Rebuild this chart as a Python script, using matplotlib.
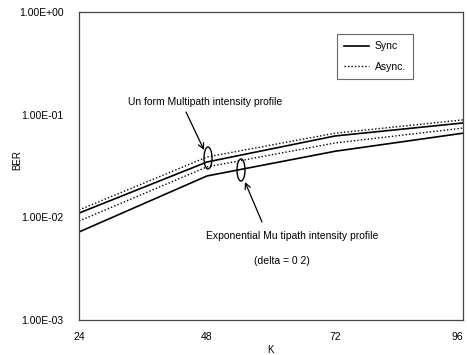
import matplotlib
matplotlib.use("Agg")
import matplotlib.pyplot as plt
from matplotlib.ticker import FixedLocator, FuncFormatter, NullLocator
from matplotlib.patches import Ellipse

plt.rcParams['font.family'] = ['Liberation Sans', 'DejaVu Sans']

K = [24, 48, 72, 96]
uniform_sync = [1.10e-2, 3.46e-2, 6.2e-2, 8.3e-2]
uniform_async = [1.18e-2, 3.87e-2, 6.6e-2, 8.9e-2]
exp_sync = [7.2e-3, 2.53e-2, 4.4e-2, 6.6e-2]
exp_async = [9.2e-3, 3.1e-2, 5.3e-2, 7.4e-2]
y_ticks = [1e-3, 1e-2, 1e-1, 1e0]
y_labels = ['1.00E-03', '1.00E-02', '1.00E-01', '1.00E+00']
x_labels = ['24', '48', '72', '96']

L, R, T, B = 79, 463, 12, 320
fig = plt.figure(figsize=(4.67, 3.55), dpi=100)
ax = fig.add_axes([L/467, 1-B/355, (R-L)/467, (B-T)/355])

def A(px, py):
    return ((px - L) / (R - L), (B - py) / (B - T))

ax.plot(K, uniform_sync, color='black', lw=1.2, label='Sync')
ax.plot(K, uniform_async, color='black', lw=1.0, ls=(0, (1, 1.5)), label='Async.')
ax.plot(K, exp_sync, color='black', lw=1.2)
ax.plot(K, exp_async, color='black', lw=1.0, ls=(0, (1, 1.5)))

ax.set_yscale('log')
ax.set_xlim(24, 96)
ax.set_ylim(1e-3, 1e0)
ax.xaxis.set_major_locator(FixedLocator(K))
ax.set_xticklabels(x_labels, fontsize=7.5)
ax.yaxis.set_major_locator(FixedLocator(y_ticks))
ax.yaxis.set_major_formatter(FuncFormatter(lambda v, p: y_labels[y_ticks.index(min(y_ticks, key=lambda t: abs(t - v)))]))
ax.yaxis.set_minor_locator(NullLocator())
ax.tick_params(axis='x', length=0, labelsize=7.5, pad=9)
ax.tick_params(axis='y', length=0, labelsize=7.5, pad=11)
xl = ax.get_xticklabels()
xl[-1].set_horizontalalignment('right')
for s in ax.spines.values():
    s.set_color('#444444')
    s.set_linewidth(0.9)

ax.set_xlabel('K', fontsize=7, labelpad=2)
ax.set_ylabel('BER', fontsize=7)
ax.yaxis.set_label_coords(-(L - 22) / (R - L), A(0, 160)[1])

leg = ax.legend(loc='upper left', bbox_to_anchor=A(337, 34), fontsize=7.5,
                frameon=True, fancybox=False, edgecolor='#444444', handlelength=2.4,
                borderpad=0.7, labelspacing=1.0, handletextpad=0.5, borderaxespad=0)
leg.get_frame().set_linewidth(0.8)

# ellipses drawn in axes coordinates
for (cx, cy) in [(208, 158), (241, 170)]:
    ax.add_patch(Ellipse(A(cx, cy), 8 / (R - L), 22 / (B - T), transform=ax.transAxes,
                         fill=False, lw=1.0, color='black'))

ax.text(*A(205, 102), 'Un form Multipath intensity profile', transform=ax.transAxes,
        fontsize=7.5, ha='center', va='center')
ax.annotate('', xy=A(204, 150), xycoords='axes fraction',
            xytext=A(186, 112), textcoords='axes fraction',
            arrowprops=dict(arrowstyle='->', color='black', lw=0.9, shrinkA=0, shrinkB=0))
ax.annotate('', xy=A(245, 182), xycoords='axes fraction',
            xytext=A(262, 222), textcoords='axes fraction',
            arrowprops=dict(arrowstyle='->', color='black', lw=0.9, shrinkA=0, shrinkB=0))
ax.text(*A(292, 236), 'Exponential Mu tipath intensity profile', transform=ax.transAxes,
        fontsize=7.5, ha='center', va='center')
ax.text(*A(282, 261), '(delta = 0 2)', transform=ax.transAxes,
        fontsize=7.5, ha='center', va='center')

fig.savefig('out.png', dpi=100)
